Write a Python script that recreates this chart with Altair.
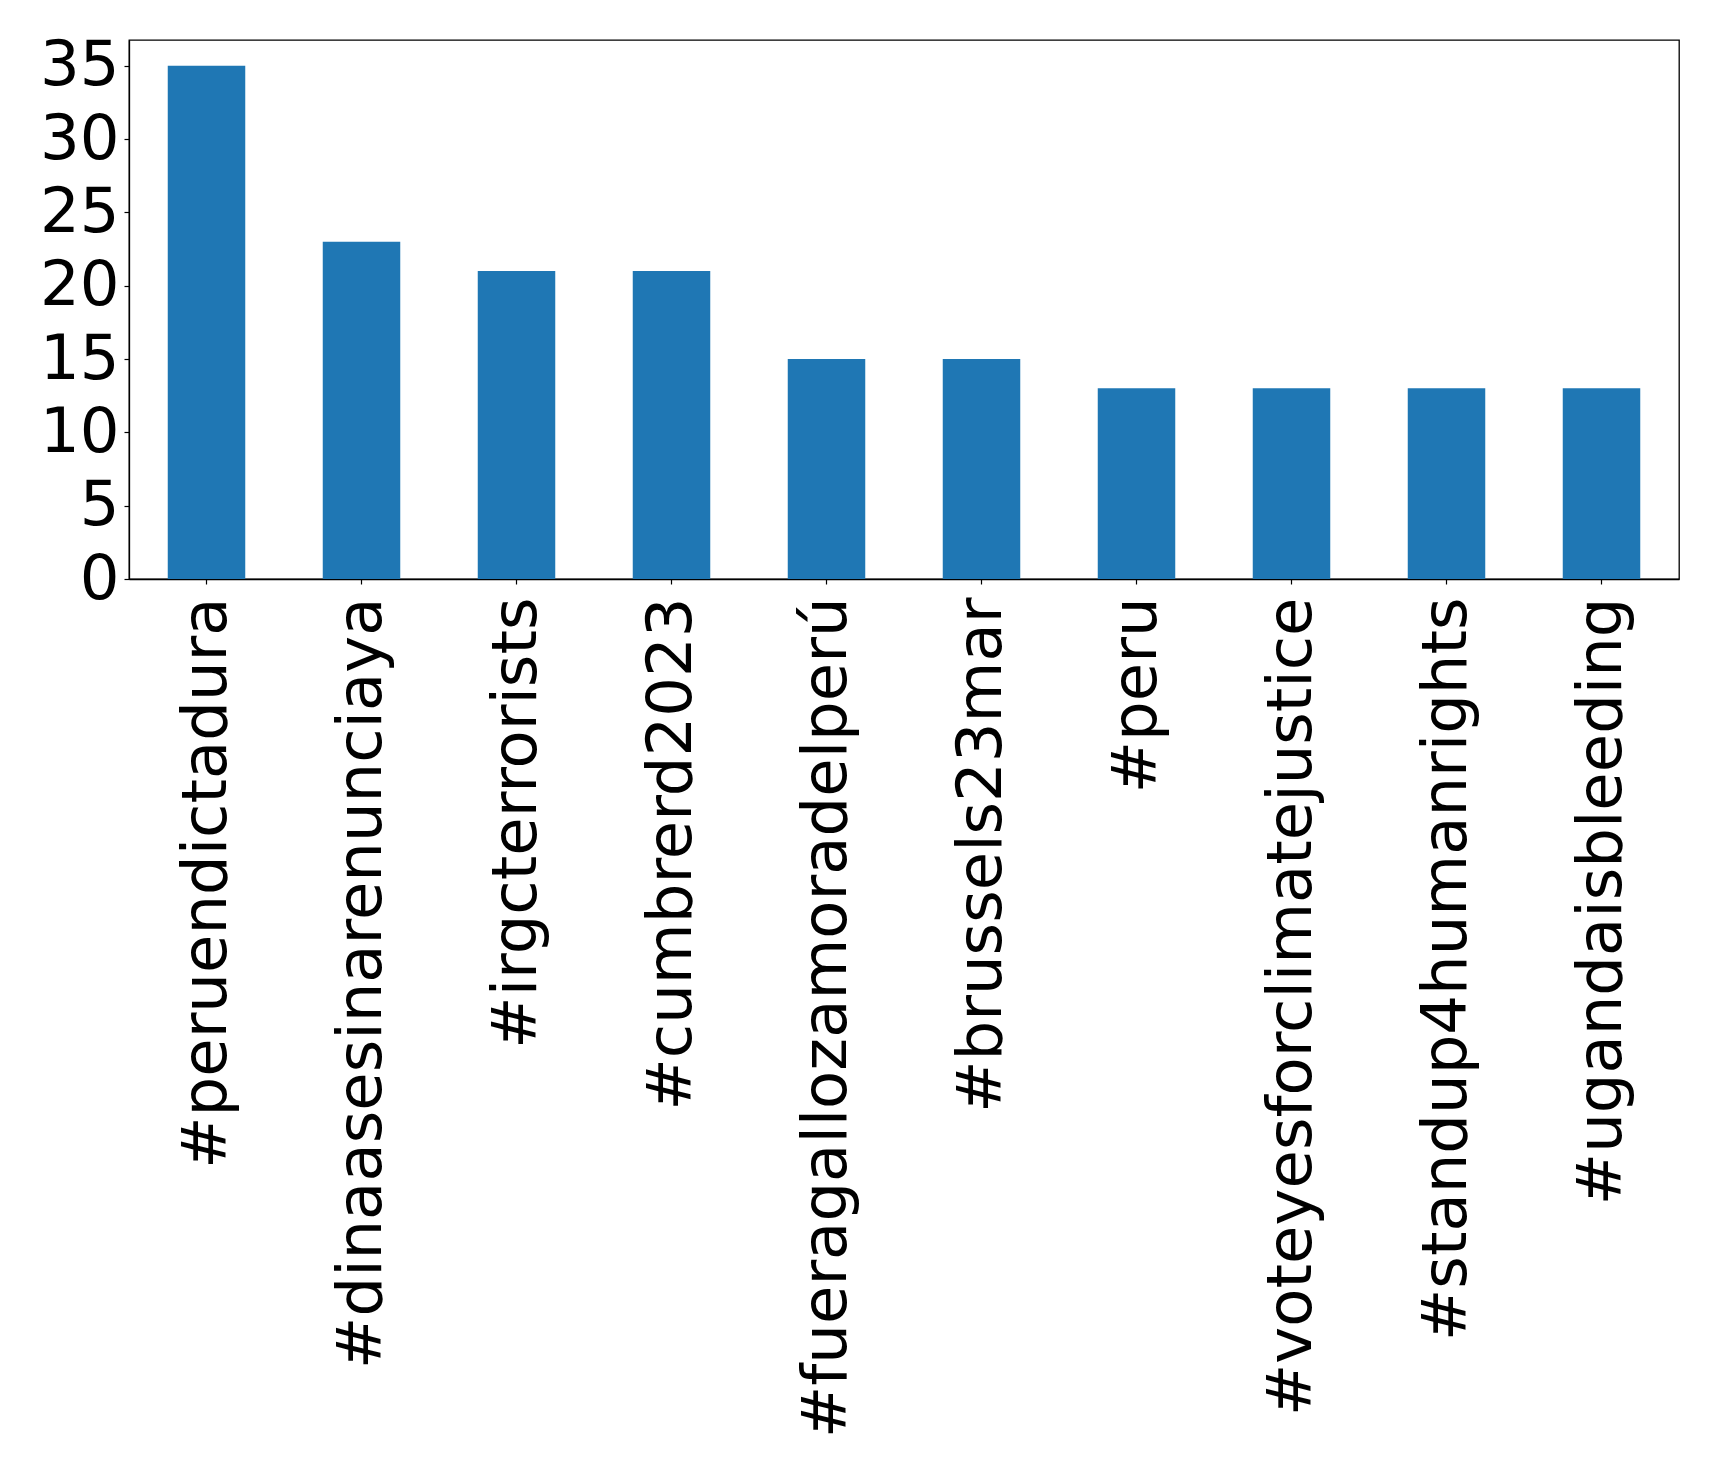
import altair as alt
import pandas as pd

hashtags = [
    "#peruendictadura",
    "#dinaasesinarenunciaya",
    "#irgcterrorists",
    "#cumbrerd2023",
    "#fueragallozamoradelperú",
    "#brussels23mar",
    "#peru",
    "#voteyesforclimatejustice",
    "#standup4humanrights",
    "#ugandaisbleeding",
]
counts = [35, 23, 21, 21, 15, 15, 13, 13, 13, 13]
y_ticks = [0, 5, 10, 15, 20, 25, 30, 35]

df = pd.DataFrame({"hashtag": hashtags, "count": counts})

FONT = "DejaVu Sans"
FS = 62.5

chart = (
    alt.Chart(df)
    .mark_bar(color="#1f77b4")
    .encode(
        x=alt.X(
            "hashtag:N",
            sort=hashtags,
            title=None,
            scale=alt.Scale(paddingInner=0.5, paddingOuter=0.25),
            axis=alt.Axis(
                labelAngle=-90,
                labelAlign="right",
                labelBaseline="middle",
                labelFont=FONT,
                labelFontSize=FS,
                labelColor="black",
                labelLimit=2000,
                labelPadding=13,
                tickSize=5,
                tickColor="black",
                tickWidth=1.2,
                domainColor="black",
                domainWidth=1.3,
                grid=False,
            ),
        ),
        y=alt.Y(
            "count:Q",
            title=None,
            scale=alt.Scale(domain=[0, 36.75], nice=False, zero=True),
            axis=alt.Axis(
                values=y_ticks,
                labelFont=FONT,
                labelFontSize=FS,
                labelColor="black",
                labelPadding=5,
                tickSize=5,
                tickColor="black",
                tickWidth=1.2,
                domainColor="black",
                domainWidth=1.3,
                grid=False,
                minExtent=121,
                maxExtent=121,
            ),
        ),
    )
    .properties(
        width=1550,
        height=539,
        padding={"left": 0, "top": 26, "right": 10, "bottom": 5},
    )
    .configure(background="white")
    .configure_view(stroke="black", strokeWidth=1.3)
)

chart.save("out.html", embed_options={"renderer": "svg", "actions": False})
